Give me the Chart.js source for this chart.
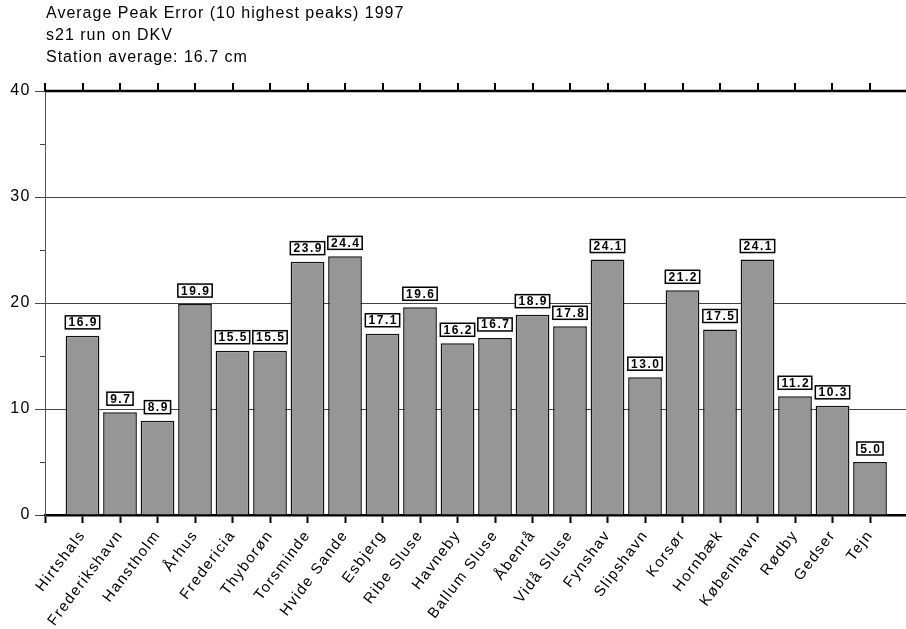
<!DOCTYPE html>
<html>
<head>
<meta charset="utf-8">
<script src="https://cdn.jsdelivr.net/npm/chart.js@4/dist/chart.umd.min.js"></script>
<style>
  html, body { margin: 0; padding: 0; background: #fff; overflow: hidden; }
  #wrap { width: 906px; height: 629px; }
</style>
</head>
<body>
<div id="wrap"><canvas id="chart" width="906" height="629"></canvas></div>
<script>
var titleLines = [
  'Average Peak Error (10 highest peaks) 1997',
  's21 run on DKV',
  'Station average: 16.7 cm'
];

var stations = [
  'Hirtshals', 'Frederikshavn', 'Hanstholm', 'Århus', 'Fredericia', 'Thyborøn',
  'Torsminde', 'Hvide Sande', 'Esbjerg', 'Ribe Sluse', 'Havneby', 'Ballum Sluse',
  'Åbenrå', 'Vidå Sluse', 'Fynshav', 'Slipshavn', 'Korsør', 'Hornbæk',
  'København', 'Rødby', 'Gedser', 'Tejn'
];

var peakErrors = [
  16.9, 9.7, 8.9, 19.9, 15.5, 15.5,
  23.9, 24.4, 17.1, 19.6, 16.2, 16.7,
  18.9, 17.8, 24.1, 13.0, 21.2, 17.5,
  24.1, 11.2, 10.3, 5.0
];

var yMajorTicks = [0, 10, 20, 30, 40];
var yMinorTicks = [5, 15, 25, 35];

var FONT = "'Liberation Sans', Helvetica, Arial, sans-serif";
Chart.defaults.font.family = FONT;
Chart.defaults.color = '#000';

// bars sit on x = 1..22, tick 0 is the empty slot at the y axis
var barData = peakErrors.map(function (v, i) {
  return { x: i + 1, y: v };
});

// extra drawing: title, top frame, minor y ticks, value boxes
var framePlugin = {
  id: 'frame',
  beforeDraw: function (chart) {
    chart.ctx.letterSpacing = '1.5px';
  },
  afterDraw: function (chart) {
    var ctx = chart.ctx;
    var area = chart.chartArea;
    var xs = chart.scales.x;
    var ys = chart.scales.y;

    ctx.save();

    // top border with upward ticks
    ctx.strokeStyle = '#000';
    ctx.lineWidth = 2.5;
    ctx.beginPath();
    ctx.moveTo(area.left, area.top);
    ctx.lineTo(area.right, area.top);
    ctx.stroke();
    ctx.lineWidth = 2;
    xs.ticks.forEach(function (t) {
      var px = Math.round(xs.getPixelForValue(t.value));
      ctx.beginPath();
      ctx.moveTo(px, area.top);
      ctx.lineTo(px, area.top - 8);
      ctx.stroke();
    });

    // minor y ticks
    ctx.strokeStyle = '#444';
    ctx.lineWidth = 1;
    yMinorTicks.forEach(function (v) {
      var py = Math.round(ys.getPixelForValue(v)) + 0.5;
      ctx.beginPath();
      ctx.moveTo(area.left - 5, py);
      ctx.lineTo(area.left, py);
      ctx.stroke();
    });

    // value boxes above bars
    ctx.font = 'bold 12px ' + FONT;
    ctx.letterSpacing = '1.5px';
    ctx.textAlign = 'center';
    ctx.textBaseline = 'alphabetic';
    var meta = chart.getDatasetMeta(0);
    meta.data.forEach(function (bar, i) {
      var txt = peakErrors[i].toFixed(1);
      var w = ctx.measureText(txt).width + 5;
      var h = 13;
      var bottom = bar.y - 7;
      var left = bar.x - w / 2;
      ctx.fillStyle = '#fff';
      ctx.fillRect(left, bottom - h, w, h);
      ctx.strokeStyle = '#000';
      ctx.lineWidth = 1.5;
      ctx.strokeRect(left, bottom - h, w, h);
      ctx.fillStyle = '#000';
      ctx.fillText(txt, bar.x + 0.75, bottom - 2.5);
    });

    // title lines
    ctx.font = '16px ' + FONT;
    ctx.letterSpacing = '1px';
    ctx.textAlign = 'left';
    var baselines = [18, 40, 62];
    titleLines.forEach(function (line, i) {
      ctx.fillText(line, area.left + 1, baselines[i]);
    });

    ctx.restore();
  }
};

var config = {
  type: 'bar',
  data: {
    datasets: [
      {
        label: 'Average peak error',
        data: barData,
        backgroundColor: '#969696',
        borderColor: '#111',
        borderWidth: 1.5,
        barPercentage: 0.9,
        categoryPercentage: 1.0
      }
    ]
  },
  options: {
    responsive: false,
    animation: false,
    layout: { padding: { top: 91, left: 0, right: 0, bottom: 0 } },
    plugins: {
      legend: { display: false },
      title: { display: false },
      tooltip: { enabled: false }
    },
    scales: {
      x: {
        type: 'linear',
        offset: false,
        min: 0,
        max: 22.96,
        afterBuildTicks: function (scale) {
          scale.ticks = [{ value: 0 }].concat(stations.map(function (s, i) {
            return { value: i + 1 };
          }));
        },
        afterFit: function (scale) {
          scale.height = 114;
          scale.paddingLeft = 0;
          scale.paddingRight = 0;
        },
        ticks: {
          autoSkip: false,
          minRotation: 53,
          maxRotation: 53,
          padding: 4,
          color: '#000',
          font: { size: 15 },
          callback: function (value) {
            return value >= 1 && value <= stations.length ? stations[value - 1] : '';
          }
        },
        grid: {
          offset: false,
          drawOnChartArea: false,
          tickLength: 8,
          tickWidth: 2,
          tickColor: '#000'
        },
        border: { color: '#000', width: 2.5 }
      },
      y: {
        min: 0,
        max: 40,
        afterBuildTicks: function (scale) {
          scale.ticks = yMajorTicks.map(function (v) { return { value: v }; });
        },
        afterFit: function (scale) {
          scale.width = 45;
          scale.paddingTop = 0;
          scale.paddingBottom = 0;
        },
        ticks: {
          padding: 4,
          color: '#000',
          font: { size: 16 }
        },
        grid: {
          color: function (c) {
            var v = c.tick ? c.tick.value : 0;
            return (v > 0 && v < 40) ? '#444' : 'rgba(0,0,0,0)';
          },
          tickColor: '#444',
          tickLength: 10,
          lineWidth: 1
        },
        border: { color: '#555', width: 1 }
      }
    }
  },
  plugins: [framePlugin]
};

var chart = new Chart(document.getElementById('chart').getContext('2d'), config);
</script>
</body>
</html>
